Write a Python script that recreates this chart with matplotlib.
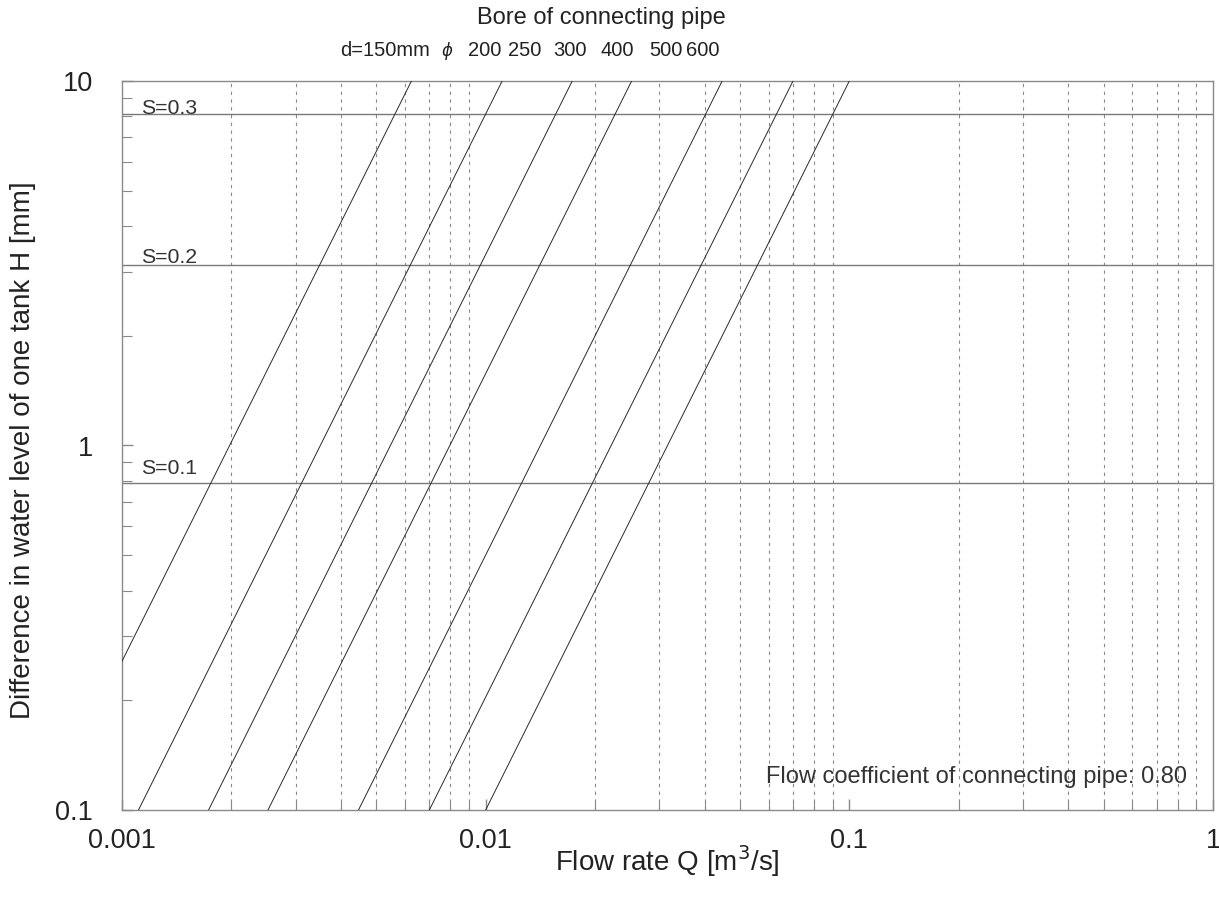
import matplotlib
matplotlib.use("Agg")
import matplotlib.pyplot as plt
from matplotlib.ticker import LogLocator, FixedLocator, FixedFormatter, NullFormatter
from matplotlib.transforms import offset_copy

plt.rcParams['font.family'] = ['Liberation Sans', 'DejaVu Sans']

# Data
bores = ["150", "200", "250", "300", "400", "500", "600"]
q_at_h_low = [0.000625, 0.00111, 0.00173, 0.00252, 0.00447, 0.00700, 0.0100]   # Q [m3/s] at H = 0.1 mm
q_at_h_high = [0.00625, 0.0111, 0.0173, 0.0252, 0.0447, 0.0700, 0.100]        # Q [m3/s] at H = 10 mm
h_ends = [0.1, 10.0]

s_labels = ["S=0.3", "S=0.2", "S=0.1"]
s_levels = [8.1, 3.12, 0.79]

x_major = [0.001, 0.01, 0.1, 1]
x_major_labels = ["0.001", "0.01", "0.1", "1"]
y_major = [0.1, 1, 10]
y_major_labels = ["0.1", "1", "10"]

W, H = 1219, 897
fig = plt.figure(figsize=(W / 100, H / 100), dpi=100)
ax = fig.add_axes([122 / W, 1 - 810 / H, (1213 - 122) / W, (810 - 81) / H])
ax.set_xscale('log')
ax.set_yscale('log')
ax.set_xlim(0.001, 1)
ax.set_ylim(0.1, 10)

# vertical dotted grid at minor positions
minor_x = [m * 10.0 ** e for e in (-3, -2, -1) for m in range(2, 10)]
for xv in minor_x:
    ax.axvline(xv, color='#8a8a8a', lw=0.8, ls=(0, (3, 4)), zorder=1)

label_raise_pt = [0, 2, 6]
for lvl, lab, dy in zip(s_levels, s_labels, label_raise_pt):
    ax.axhline(lvl, color='#7a7a7a', lw=1.0, zorder=2)
    tr = offset_copy(ax.transData, fig=fig, x=0, y=dy, units='points')
    ax.text(0.00113, lvl, lab, fontsize=15.3, color='#333333',
            ha='left', va='baseline', zorder=3, transform=tr)

for ql, qh in zip(q_at_h_low, q_at_h_high):
    ax.plot([ql, qh], h_ends, color='#2a2a2a', lw=0.7, zorder=4)

ax.text(0.976, 0.037, "Flow coefficient of connecting pipe: 0.80", transform=ax.transAxes,
        ha='right', va='baseline', fontsize=17, color='#333333')

for sp in ax.spines.values():
    sp.set_color('#8a8a8a')
    sp.set_linewidth(1.0)

ax.xaxis.set_major_locator(FixedLocator(x_major))
ax.xaxis.set_major_formatter(FixedFormatter(x_major_labels))
ax.xaxis.set_minor_locator(FixedLocator(minor_x))
ax.xaxis.set_minor_formatter(NullFormatter())
ax.yaxis.set_major_locator(FixedLocator(y_major))
ax.yaxis.set_major_formatter(FixedFormatter(y_major_labels))
ax.yaxis.set_minor_locator(LogLocator(base=10, subs=range(2, 10)))
ax.yaxis.set_minor_formatter(NullFormatter())
ax.tick_params(which='both', direction='in', color='#8a8a8a', top=False, right=False,
               labelsize=19.5, labelcolor='#222222')
ax.tick_params(which='major', length=8, width=1.0)
ax.tick_params(axis='x', which='major', pad=13)
ax.tick_params(axis='y', which='major', pad=21)
ax.tick_params(which='minor', length=7, width=0.8)

ax.set_xlabel("Flow rate Q [m$^3$/s]", fontsize=20, color='#222222')
ax.set_ylabel("Difference in water level of one tank H [mm]", fontsize=20, color='#222222')
ax.xaxis.set_label_coords(0.5, -0.046)
ax.yaxis.set_label_coords(-0.079, 0.494)

fig.text(601 / W, 1 - 18 / H, "Bore of connecting pipe", ha='center', va='center',
         fontsize=17, color='#222222')
top_x = [485, 525, 570, 617, 666, 703]
top_labels = ["200", "250", "300", "400", "500", "600"]
fig.text(340 / W, 1 - 50 / H, "d=150mm", ha='left', va='center', fontsize=14.5, color='#222222')
fig.text(447 / W, 1 - 51 / H, "\u03d5", ha='center', va='center', fontsize=12,
         color='#222222', family=['DejaVu Sans'], style='italic')
for xp, lab in zip(top_x, top_labels):
    fig.text(xp / W, 1 - 50 / H, lab, ha='center', va='center', fontsize=14.5, color='#222222')

fig.savefig("out.png", dpi=100, facecolor='white')
